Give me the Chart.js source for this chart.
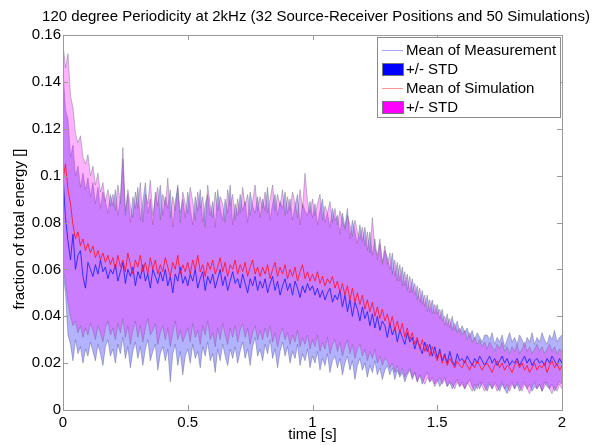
<!DOCTYPE html>
<html>
<head>
<meta charset="utf-8">
<script src="https://cdn.jsdelivr.net/npm/chart.js"></script>
<style>
  html, body { margin: 0; padding: 0; background: #fff; }
  #wrap { width: 594px; height: 445px; }
</style>
</head>
<body>
<div id="wrap"><canvas id="chart" width="594" height="445"></canvas></div>
<script>
    // Tidsakse: en prøve per 0.01 s, fra 0 til 2 s
    const timeStep = 0.01;

    // Measurement: upper and lower edge of the +/- STD band
    const measUpper = [
        0.145, 0.128, 0.124, 0.108, 0.113, 0.100, 0.104, 0.095, 0.101, 0.094,
        0.099, 0.091, 0.097, 0.088, 0.095, 0.086, 0.093, 0.089, 0.084, 0.092,
        0.087, 0.094, 0.083, 0.090, 0.107, 0.085, 0.092, 0.080, 0.091, 0.086,
        0.095, 0.081, 0.089, 0.097, 0.084, 0.090, 0.079, 0.093, 0.087, 0.096,
        0.083, 0.091, 0.086, 0.094, 0.078, 0.089, 0.095, 0.084, 0.090, 0.082,
        0.093, 0.086, 0.079, 0.091, 0.085, 0.094, 0.080, 0.088, 0.092, 0.083,
        0.089, 0.078, 0.094, 0.086, 0.081, 0.090, 0.084, 0.096, 0.079, 0.088,
        0.083, 0.092, 0.085, 0.089, 0.080, 0.093, 0.087, 0.084, 0.091, 0.082,
        0.090, 0.085, 0.095, 0.081, 0.088, 0.092, 0.083, 0.089, 0.086, 0.093,
        0.084, 0.090, 0.081, 0.087, 0.092, 0.079, 0.088, 0.085, 0.083, 0.089,
        0.082, 0.088, 0.079, 0.085, 0.090, 0.080, 0.084, 0.078, 0.086, 0.081,
        0.083, 0.075, 0.084, 0.078, 0.086, 0.073, 0.081, 0.076, 0.071, 0.079,
        0.072, 0.078, 0.068, 0.076, 0.066, 0.073, 0.064, 0.071, 0.062, 0.068,
        0.065, 0.060, 0.067, 0.057, 0.063, 0.055, 0.061, 0.053, 0.058, 0.050,
        0.056, 0.049, 0.053, 0.046, 0.051, 0.044, 0.049, 0.042, 0.047, 0.041,
        0.045, 0.039, 0.043, 0.036, 0.041, 0.035, 0.040, 0.034, 0.038, 0.033,
        0.036, 0.033, 0.035, 0.031, 0.034, 0.030, 0.033, 0.031, 0.029, 0.032,
        0.032, 0.030, 0.033, 0.028, 0.031, 0.029, 0.032, 0.027, 0.030, 0.033,
        0.029, 0.031, 0.028, 0.032, 0.030, 0.027, 0.031, 0.029, 0.033, 0.028,
        0.031, 0.029, 0.033, 0.030, 0.028, 0.032, 0.030, 0.034, 0.029, 0.031,
        0.032
    ];
    const measLower = [
        0.058, 0.050, 0.032, 0.028, 0.021, 0.030, 0.024, 0.027, 0.020, 0.026,
        0.023, 0.029, 0.025, 0.021, 0.028, 0.024, 0.019, 0.027, 0.030, 0.023,
        0.026, 0.020, 0.028, 0.024, 0.031, 0.022, 0.027, 0.018, 0.025, 0.029,
        0.022, 0.027, 0.019, 0.026, 0.030, 0.021, 0.025, 0.028, 0.017, 0.024,
        0.027, 0.021, 0.026, 0.012, 0.024, 0.028, 0.019, 0.025, 0.015, 0.023,
        0.026, 0.020, 0.028, 0.022, 0.025, 0.018, 0.027, 0.023, 0.029, 0.021,
        0.024, 0.016, 0.026, 0.021, 0.028, 0.023, 0.019, 0.026, 0.022, 0.027,
        0.020, 0.025, 0.029, 0.022, 0.026, 0.019, 0.027, 0.031, 0.023, 0.026,
        0.021, 0.028, 0.024, 0.030, 0.022, 0.026, 0.018, 0.025, 0.029, 0.023,
        0.027, 0.020, 0.025, 0.022, 0.028, 0.019, 0.024, 0.021, 0.026, 0.018,
        0.023, 0.020, 0.025, 0.017, 0.022, 0.019, 0.024, 0.016, 0.021, 0.023,
        0.018, 0.022, 0.015, 0.020, 0.023, 0.017, 0.021, 0.013, 0.019, 0.022,
        0.017, 0.020, 0.014, 0.019, 0.016, 0.021, 0.015, 0.018, 0.013, 0.017,
        0.019, 0.015, 0.018, 0.013, 0.017, 0.014, 0.016, 0.012, 0.015, 0.017,
        0.013, 0.016, 0.012, 0.015, 0.011, 0.014, 0.016, 0.012, 0.014, 0.011,
        0.013, 0.010, 0.012, 0.014, 0.010, 0.012, 0.009, 0.011, 0.013, 0.010,
        0.012, 0.009, 0.011, 0.013, 0.010, 0.008, 0.011, 0.009, 0.012, 0.010,
        0.008, 0.011, 0.009, 0.012, 0.010, 0.008, 0.011, 0.009, 0.007, 0.010,
        0.012, 0.009, 0.011, 0.008, 0.010, 0.012, 0.009, 0.011, 0.008, 0.010,
        0.009, 0.011, 0.008, 0.012, 0.010, 0.009, 0.011, 0.008, 0.010, 0.012,
        0.011
    ];

    // Simulation: upper and lower edge of the +/- STD band
    const simUpper = [
        0.156, 0.146, 0.152, 0.134, 0.129, 0.118, 0.114, 0.117, 0.108, 0.105,
        0.109, 0.100, 0.104, 0.096, 0.101, 0.093, 0.097, 0.089, 0.094, 0.087,
        0.092, 0.085, 0.096, 0.088, 0.112, 0.083, 0.094, 0.087, 0.082, 0.093,
        0.086, 0.097, 0.080, 0.092, 0.088, 0.098, 0.083, 0.090, 0.095, 0.081,
        0.092, 0.087, 0.099, 0.082, 0.091, 0.085, 0.096, 0.080, 0.093, 0.088,
        0.084, 0.095, 0.089, 0.081, 0.093, 0.086, 0.091, 0.078, 0.096, 0.087,
        0.082, 0.093, 0.085, 0.091, 0.088, 0.080, 0.094, 0.087, 0.092, 0.081,
        0.090, 0.084, 0.095, 0.087, 0.092, 0.083, 0.089, 0.096, 0.085, 0.091,
        0.086, 0.093, 0.084, 0.090, 0.096, 0.085, 0.092, 0.087, 0.094, 0.083,
        0.091, 0.085, 0.093, 0.088, 0.082, 0.094, 0.086, 0.101, 0.089, 0.084,
        0.090, 0.083, 0.088, 0.092, 0.081, 0.087, 0.084, 0.089, 0.080, 0.086,
        0.079, 0.085, 0.081, 0.077, 0.083, 0.079, 0.074, 0.081, 0.076, 0.073,
        0.078, 0.070, 0.076, 0.067, 0.082, 0.069, 0.066, 0.073, 0.063, 0.070,
        0.062, 0.067, 0.058, 0.064, 0.055, 0.062, 0.053, 0.059, 0.051, 0.057,
        0.050, 0.054, 0.047, 0.052, 0.045, 0.049, 0.042, 0.047, 0.041, 0.045,
        0.041, 0.043, 0.038, 0.040, 0.036, 0.039, 0.034, 0.037, 0.033, 0.035,
        0.032, 0.034, 0.030, 0.033, 0.029, 0.031, 0.028, 0.030, 0.027, 0.029,
        0.026, 0.029, 0.027, 0.025, 0.028, 0.026, 0.029, 0.025, 0.027, 0.024,
        0.027, 0.025, 0.028, 0.024, 0.026, 0.029, 0.025, 0.027, 0.024, 0.026,
        0.028, 0.025, 0.027, 0.024, 0.026, 0.028, 0.025, 0.027, 0.024, 0.026,
        0.025
    ];
    const simLower = [
        0.060, 0.055, 0.046, 0.040, 0.036, 0.038, 0.033, 0.036, 0.031, 0.035,
        0.032, 0.037, 0.034, 0.030, 0.036, 0.033, 0.029, 0.035, 0.038, 0.032,
        0.035, 0.030, 0.037, 0.033, 0.039, 0.031, 0.036, 0.028, 0.034, 0.038,
        0.031, 0.036, 0.029, 0.035, 0.039, 0.032, 0.034, 0.037, 0.028, 0.033,
        0.036, 0.030, 0.035, 0.027, 0.033, 0.038, 0.030, 0.034, 0.029, 0.032,
        0.035, 0.029, 0.037, 0.031, 0.034, 0.028, 0.036, 0.032, 0.038, 0.030,
        0.033, 0.027, 0.035, 0.030, 0.037, 0.032, 0.028, 0.035, 0.031, 0.036,
        0.029, 0.034, 0.037, 0.031, 0.035, 0.028, 0.033, 0.036, 0.030, 0.034,
        0.030, 0.035, 0.031, 0.036, 0.029, 0.033, 0.027, 0.032, 0.035, 0.030,
        0.033, 0.028, 0.032, 0.029, 0.034, 0.027, 0.031, 0.028, 0.032, 0.026,
        0.030, 0.027, 0.032, 0.025, 0.029, 0.026, 0.031, 0.024, 0.028, 0.030,
        0.025, 0.029, 0.023, 0.027, 0.030, 0.024, 0.028, 0.022, 0.026, 0.028,
        0.023, 0.026, 0.021, 0.025, 0.022, 0.026, 0.020, 0.023, 0.019, 0.022,
        0.021, 0.018, 0.020, 0.016, 0.019, 0.015, 0.018, 0.014, 0.016, 0.018,
        0.014, 0.016, 0.012, 0.015, 0.013, 0.011, 0.014, 0.012, 0.013, 0.010,
        0.012, 0.014, 0.011, 0.013, 0.010, 0.012, 0.011, 0.009, 0.012, 0.010,
        0.011, 0.009, 0.012, 0.010, 0.008, 0.011, 0.009, 0.012, 0.010, 0.008,
        0.010, 0.012, 0.009, 0.011, 0.008, 0.010, 0.012, 0.009, 0.011, 0.008,
        0.011, 0.009, 0.012, 0.010, 0.008, 0.011, 0.009, 0.007, 0.010, 0.012,
        0.009, 0.011, 0.008, 0.010, 0.012, 0.009, 0.007, 0.010, 0.008, 0.011,
        0.009
    ];

    // Mean curves
    const measMean = [
        0.100, 0.082, 0.072, 0.064, 0.075, 0.060, 0.066, 0.068, 0.057, 0.052,
        0.063, 0.060, 0.057, 0.062, 0.058, 0.064, 0.059, 0.061, 0.056, 0.060,
        0.058, 0.062, 0.055, 0.059, 0.063, 0.054, 0.060, 0.057, 0.061, 0.053,
        0.059, 0.056, 0.062, 0.055, 0.058, 0.052, 0.060, 0.057, 0.054, 0.059,
        0.055, 0.060, 0.053, 0.057, 0.050, 0.058, 0.055, 0.061, 0.054, 0.057,
        0.053, 0.058, 0.055, 0.060, 0.052, 0.056, 0.059, 0.051, 0.057, 0.054,
        0.058, 0.052, 0.056, 0.060, 0.053, 0.057, 0.051, 0.055, 0.059, 0.054,
        0.056, 0.052, 0.058, 0.054, 0.050, 0.056, 0.053, 0.057, 0.051, 0.055,
        0.052, 0.056, 0.050, 0.054, 0.057, 0.051, 0.055, 0.049, 0.053, 0.056,
        0.051, 0.054, 0.049, 0.055, 0.052, 0.048, 0.053, 0.050, 0.054, 0.051,
        0.053, 0.049, 0.052, 0.048, 0.051, 0.047, 0.050, 0.052, 0.046, 0.049,
        0.047, 0.051, 0.044, 0.049, 0.042, 0.047, 0.040, 0.046, 0.043, 0.038,
        0.044, 0.039, 0.042, 0.036, 0.041, 0.035, 0.040, 0.034, 0.038, 0.036,
        0.031, 0.037, 0.032, 0.035, 0.029, 0.034, 0.031, 0.028, 0.033, 0.029,
        0.031, 0.026, 0.030, 0.027, 0.024, 0.029, 0.025, 0.028, 0.023, 0.027,
        0.022, 0.026, 0.021, 0.024, 0.020, 0.025, 0.021, 0.019, 0.024, 0.021,
        0.022, 0.020, 0.023, 0.021, 0.019, 0.022, 0.020, 0.023, 0.021, 0.019,
        0.021, 0.023, 0.020, 0.022, 0.019, 0.021, 0.023, 0.020, 0.022, 0.019,
        0.021, 0.020, 0.022, 0.019, 0.021, 0.023, 0.020, 0.022, 0.019, 0.021,
        0.022, 0.020, 0.021, 0.019, 0.022, 0.020, 0.023, 0.021, 0.019, 0.022,
        0.020
    ];
    const simMean = [
        0.098, 0.105, 0.094, 0.088, 0.079, 0.073, 0.076, 0.070, 0.073, 0.068,
        0.071, 0.067, 0.070, 0.065, 0.068, 0.064, 0.067, 0.063, 0.066, 0.062,
        0.065, 0.060, 0.066, 0.061, 0.064, 0.059, 0.067, 0.062, 0.058, 0.064,
        0.061, 0.066, 0.059, 0.063, 0.058, 0.065, 0.060, 0.064, 0.058, 0.062,
        0.059, 0.065, 0.061, 0.057, 0.063, 0.060, 0.066, 0.058, 0.062, 0.059,
        0.063, 0.058, 0.064, 0.060, 0.066, 0.059, 0.062, 0.057, 0.063, 0.060,
        0.064, 0.058, 0.061, 0.065, 0.059, 0.063, 0.057, 0.062, 0.060, 0.064,
        0.058, 0.062, 0.059, 0.063, 0.057, 0.061, 0.064, 0.058, 0.061, 0.057,
        0.061, 0.058, 0.062, 0.056, 0.060, 0.063, 0.057, 0.061, 0.058, 0.062,
        0.056, 0.060, 0.057, 0.061, 0.055, 0.059, 0.062, 0.056, 0.059, 0.055,
        0.058, 0.055, 0.059, 0.054, 0.057, 0.053, 0.056, 0.054, 0.057, 0.052,
        0.055, 0.050, 0.054, 0.049, 0.053, 0.047, 0.052, 0.046, 0.050, 0.045,
        0.049, 0.043, 0.047, 0.042, 0.046, 0.040, 0.044, 0.039, 0.043, 0.038,
        0.041, 0.036, 0.040, 0.034, 0.038, 0.033, 0.037, 0.031, 0.035, 0.030,
        0.033, 0.028, 0.031, 0.026, 0.030, 0.025, 0.028, 0.023, 0.027, 0.024,
        0.021, 0.025, 0.020, 0.023, 0.019, 0.022, 0.020, 0.018, 0.021, 0.019,
        0.018, 0.021, 0.019, 0.017, 0.020, 0.018, 0.021, 0.019, 0.017, 0.019,
        0.020, 0.018, 0.016, 0.019, 0.021, 0.018, 0.020, 0.017, 0.019, 0.018,
        0.016, 0.019, 0.021, 0.018, 0.020, 0.017, 0.019, 0.016, 0.018, 0.020,
        0.017, 0.019, 0.018, 0.020, 0.016, 0.019, 0.021, 0.018, 0.020, 0.017,
        0.019
    ];

    const xTicks = [0, 0.5, 1, 1.5, 2];
    const yTicks = [0, 0.02, 0.04, 0.06, 0.08, 0.1, 0.12, 0.14, 0.16];

    const chartTitle = '120 degree Periodicity at 2kHz (32 Source-Receiver Positions and 50 Simulations)';
    const xTitle = 'time [s]';
    const yTitle = 'fraction of total energy []';
    const legendItems = [
        { text: 'Mean of Measurement', kind: 'line', color: 'rgb(165,165,255)' },
        { text: '+/- STD', kind: 'box', color: '#0000ff' },
        { text: 'Mean of Simulation', kind: 'line', color: 'rgb(255,150,150)' },
        { text: '+/- STD', kind: 'box', color: '#ff00ff' }
    ];

    const FONT = '"Liberation Sans", Arial, Helvetica, sans-serif';
    const toPoints = arr => arr.map((v, i) => ({ x: +(i * timeStep).toFixed(2), y: v }));

    const edgeColor = 'rgba(105,105,130,0.55)';

    // MATLAB-aktig ramme, innovervendte tick-merker, titler og forklaring
    const matlabDecor = {
        id: 'matlabDecor',
        afterDraw(chart) {
            const ctx = chart.ctx;
            const a = chart.chartArea;
            const xs = chart.scales.x, ys = chart.scales.y;
            ctx.save();
            ctx.strokeStyle = '#9a9a9a';
            ctx.lineWidth = 1;
            ctx.strokeRect(Math.round(a.left) + 0.5, Math.round(a.top) + 0.5,
                Math.round(a.right - a.left), Math.round(a.bottom - a.top));
            ctx.beginPath();
            xTicks.forEach(t => {
                const px = Math.round(xs.getPixelForValue(t)) + 0.5;
                ctx.moveTo(px, a.bottom); ctx.lineTo(px, a.bottom - 5);
                ctx.moveTo(px, a.top); ctx.lineTo(px, a.top + 5);
            });
            yTicks.forEach(t => {
                const py = Math.round(ys.getPixelForValue(t)) + 0.5;
                ctx.moveTo(a.left, py); ctx.lineTo(a.left + 5, py);
                ctx.moveTo(a.right, py); ctx.lineTo(a.right - 5, py);
            });
            ctx.stroke();

            // titles
            ctx.fillStyle = '#000';
            ctx.font = '15px ' + FONT;
            ctx.textAlign = 'center';
            ctx.textBaseline = 'middle';
            ctx.fillText(chartTitle, 316, 17);
            ctx.fillText(xTitle, (a.left + a.right) / 2, 435);
            ctx.save();
            ctx.translate(20, 229);
            ctx.rotate(-Math.PI / 2);
            ctx.fillText(yTitle, 0, 0);
            ctx.restore();

            // legend
            const lx = 377, ly = 37, lw = 183, lh = 80;
            ctx.fillStyle = '#fff';
            ctx.fillRect(lx, ly, lw, lh);
            ctx.strokeStyle = '#8c8c8c';
            ctx.strokeRect(lx + 0.5, ly + 0.5, lw, lh);
            ctx.textAlign = 'left';
            legendItems.forEach((it, i) => {
                const cy = ly + 13 + i * 19;
                if (it.kind === 'line') {
                    ctx.strokeStyle = it.color;
                    ctx.lineWidth = 1;
                    ctx.beginPath();
                    ctx.moveTo(382, cy + 0.5); ctx.lineTo(403, cy + 0.5);
                    ctx.stroke();
                } else {
                    ctx.fillStyle = it.color;
                    ctx.fillRect(382, cy - 6, 21, 13);
                    ctx.strokeStyle = '#777';
                    ctx.strokeRect(382.5, cy - 5.5, 21, 12);
                }
                ctx.fillStyle = '#000';
                ctx.fillText(it.text, 406, cy + 1);
            });
            ctx.restore();
        }
    };

    const ctx = document.getElementById('chart').getContext('2d');
    const energyChart = new Chart(ctx, {
        type: 'line',
        data: {
            datasets: [
                {
                    label: 'Mean of Simulation',
                    data: toPoints(simMean),
                    borderColor: 'rgba(255,20,40,0.95)',
                    borderWidth: 0.9,
                    fill: false
                },
                {
                    label: 'Mean of Measurement',
                    data: toPoints(measMean),
                    borderColor: 'rgba(30,30,255,0.95)',
                    borderWidth: 0.9,
                    fill: false
                },
                {
                    label: '+/- STD',
                    data: toPoints(simUpper),
                    borderColor: edgeColor,
                    borderWidth: 0.8,
                    backgroundColor: 'rgba(255,0,255,0.3)',
                    fill: '+1'
                },
                {
                    label: 'sim lower',
                    data: toPoints(simLower),
                    borderColor: edgeColor,
                    borderWidth: 0.8,
                    fill: false
                },
                {
                    label: '+/- STD',
                    data: toPoints(measUpper),
                    borderColor: edgeColor,
                    borderWidth: 0.8,
                    backgroundColor: 'rgba(0,0,255,0.3)',
                    fill: '+1'
                },
                {
                    label: 'meas lower',
                    data: toPoints(measLower),
                    borderColor: edgeColor,
                    borderWidth: 0.8,
                    fill: false
                }
            ]
        },
        options: {
            responsive: false,
            animation: false,
            layout: { padding: { top: 35, right: 32, left: 0, bottom: 0 } },
            elements: { point: { radius: 0 }, line: { tension: 0 } },
            plugins: {
                legend: { display: false },
                tooltip: { enabled: false }
            },
            scales: {
                x: {
                    type: 'linear',
                    min: 0,
                    max: 2,
                    afterFit: s => { s.height = 35; },
                    afterBuildTicks: s => { s.ticks = xTicks.map(v => ({ value: v })); },
                    grid: { display: false, drawTicks: false },
                    border: { display: false },
                    ticks: {
                        color: '#000',
                        font: { family: FONT, size: 15 },
                        padding: 4,
                        maxRotation: 0,
                        callback: v => String(v)
                    }
                },
                y: {
                    min: 0,
                    max: 0.16,
                    afterFit: s => { s.width = 63; },
                    afterBuildTicks: s => { s.ticks = yTicks.map(v => ({ value: v })); },
                    grid: { display: false, drawTicks: false },
                    border: { display: false },
                    ticks: {
                        color: '#000',
                        font: { family: FONT, size: 15 },
                        padding: 2,
                        callback: v => String(+v.toFixed(2))
                    }
                }
            }
        },
        plugins: [matlabDecor]
    });
</script>
</body>
</html>
